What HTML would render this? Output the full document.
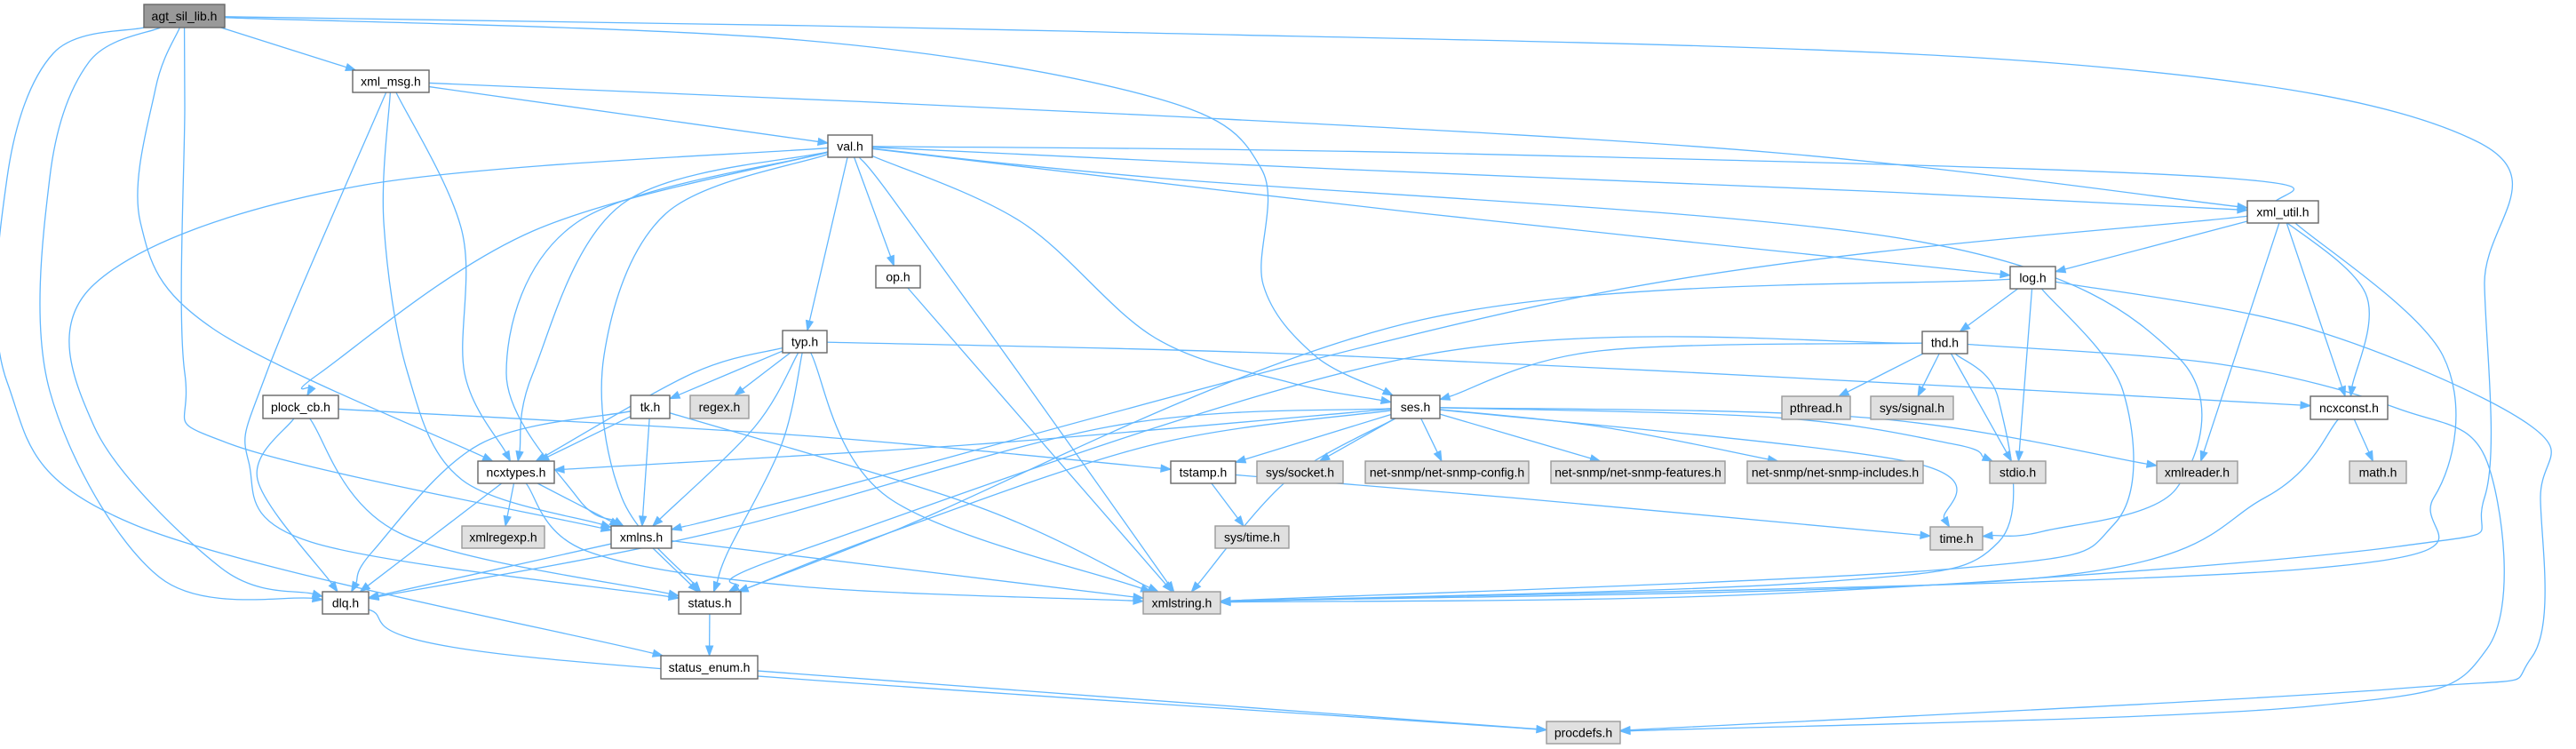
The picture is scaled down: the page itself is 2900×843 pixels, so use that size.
<!DOCTYPE html>
<html><head><meta charset="utf-8"><style>
html,body{margin:0;padding:0;background:#fff;}
svg{display:block;}
text{font-family:"Liberation Sans",sans-serif;font-size:14px;fill:#000;}
</style></head><body>
<svg id="g" width="2900" height="843" viewBox="0 0 2900 843" xmlns="http://www.w3.org/2000/svg">
<g id="edges" fill="none" stroke="#63b8ff" stroke-width="1.3"></g>
<g id="arrows" fill="#63b8ff" stroke="#63b8ff" stroke-width="1"></g>
<g id="nodes">
<rect x="162" y="5" width="91" height="26" fill="#999" stroke="#666" stroke-width="1.4"/><text x="207.5" y="23" text-anchor="middle">agt_sil_lib.h</text>
<rect x="397" y="79" width="86" height="25" fill="#fff" stroke="#666" stroke-width="1.4"/><text x="440" y="96.5" text-anchor="middle">xml_msg.h</text>
<rect x="932" y="152" width="50" height="25" fill="#fff" stroke="#666" stroke-width="1.4"/><text x="957" y="169.5" text-anchor="middle">val.h</text>
<rect x="2530" y="226" width="80" height="25" fill="#fff" stroke="#666" stroke-width="1.4"/><text x="2570" y="243.5" text-anchor="middle">xml_util.h</text>
<rect x="986" y="299" width="50" height="25" fill="#fff" stroke="#666" stroke-width="1.4"/><text x="1011" y="316.5" text-anchor="middle">op.h</text>
<rect x="2263" y="300" width="51" height="25" fill="#fff" stroke="#666" stroke-width="1.4"/><text x="2288.5" y="317.5" text-anchor="middle">log.h</text>
<rect x="881" y="372" width="50" height="25" fill="#fff" stroke="#666" stroke-width="1.4"/><text x="906" y="389.5" text-anchor="middle">typ.h</text>
<rect x="2164" y="373" width="51" height="25" fill="#fff" stroke="#666" stroke-width="1.4"/><text x="2189.5" y="390.5" text-anchor="middle">thd.h</text>
<rect x="296" y="445" width="85" height="26" fill="#fff" stroke="#666" stroke-width="1.4"/><text x="338.5" y="463" text-anchor="middle">plock_cb.h</text>
<rect x="710" y="445" width="44" height="26" fill="#fff" stroke="#666" stroke-width="1.4"/><text x="732" y="463" text-anchor="middle">tk.h</text>
<rect x="777" y="445" width="66" height="26" fill="#e0e0e0" stroke="#999" stroke-width="1.4"/><text x="810" y="463" text-anchor="middle">regex.h</text>
<rect x="1566" y="445" width="55" height="26" fill="#fff" stroke="#666" stroke-width="1.4"/><text x="1593.5" y="463" text-anchor="middle">ses.h</text>
<rect x="2006" y="446" width="77" height="26" fill="#e0e0e0" stroke="#999" stroke-width="1.4"/><text x="2044.5" y="464" text-anchor="middle">pthread.h</text>
<rect x="2106" y="446" width="93" height="26" fill="#e0e0e0" stroke="#999" stroke-width="1.4"/><text x="2152.5" y="464" text-anchor="middle">sys/signal.h</text>
<rect x="2601" y="446" width="87" height="26" fill="#fff" stroke="#666" stroke-width="1.4"/><text x="2644.5" y="464" text-anchor="middle">ncxconst.h</text>
<rect x="538" y="519" width="86" height="25" fill="#fff" stroke="#666" stroke-width="1.4"/><text x="581" y="536.5" text-anchor="middle">ncxtypes.h</text>
<rect x="1318" y="519" width="73" height="25" fill="#fff" stroke="#666" stroke-width="1.4"/><text x="1354.5" y="536.5" text-anchor="middle">tstamp.h</text>
<rect x="1415" y="519" width="97" height="25" fill="#e0e0e0" stroke="#999" stroke-width="1.4"/><text x="1463.5" y="536.5" text-anchor="middle">sys/socket.h</text>
<rect x="1537" y="519" width="184" height="25" fill="#e0e0e0" stroke="#999" stroke-width="1.4"/><text x="1629" y="536.5" text-anchor="middle">net-snmp/net-snmp-config.h</text>
<rect x="1746" y="519" width="196" height="25" fill="#e0e0e0" stroke="#999" stroke-width="1.4"/><text x="1844" y="536.5" text-anchor="middle">net-snmp/net-snmp-features.h</text>
<rect x="1967" y="519" width="198" height="25" fill="#e0e0e0" stroke="#999" stroke-width="1.4"/><text x="2066" y="536.5" text-anchor="middle">net-snmp/net-snmp-includes.h</text>
<rect x="2240" y="519" width="63" height="25" fill="#e0e0e0" stroke="#999" stroke-width="1.4"/><text x="2271.5" y="536.5" text-anchor="middle">stdio.h</text>
<rect x="2428" y="519" width="91" height="25" fill="#e0e0e0" stroke="#999" stroke-width="1.4"/><text x="2473.5" y="536.5" text-anchor="middle">xmlreader.h</text>
<rect x="2645" y="519" width="64" height="25" fill="#e0e0e0" stroke="#999" stroke-width="1.4"/><text x="2677" y="536.5" text-anchor="middle">math.h</text>
<rect x="520" y="592" width="93" height="25" fill="#e0e0e0" stroke="#999" stroke-width="1.4"/><text x="566.5" y="609.5" text-anchor="middle">xmlregexp.h</text>
<rect x="688" y="592" width="68" height="25" fill="#fff" stroke="#666" stroke-width="1.4"/><text x="722" y="609.5" text-anchor="middle">xmlns.h</text>
<rect x="1368" y="592" width="83" height="25" fill="#e0e0e0" stroke="#999" stroke-width="1.4"/><text x="1409.5" y="609.5" text-anchor="middle">sys/time.h</text>
<rect x="2173" y="593" width="59" height="26" fill="#e0e0e0" stroke="#999" stroke-width="1.4"/><text x="2202.5" y="611" text-anchor="middle">time.h</text>
<rect x="363" y="666" width="52" height="25" fill="#fff" stroke="#666" stroke-width="1.4"/><text x="389" y="683.5" text-anchor="middle">dlq.h</text>
<rect x="764" y="666" width="70" height="25" fill="#fff" stroke="#666" stroke-width="1.4"/><text x="799" y="683.5" text-anchor="middle">status.h</text>
<rect x="1287" y="666" width="87" height="25" fill="#e0e0e0" stroke="#999" stroke-width="1.4"/><text x="1330.5" y="683.5" text-anchor="middle">xmlstring.h</text>
<rect x="744" y="738" width="109" height="26" fill="#fff" stroke="#666" stroke-width="1.4"/><text x="798.5" y="756" text-anchor="middle">status_enum.h</text>
<rect x="1741" y="812" width="83" height="25" fill="#e0e0e0" stroke="#999" stroke-width="1.4"/><text x="1782.5" y="829.5" text-anchor="middle">procdefs.h</text>
</g>
</svg>
<script>
var N={agt:[162,5,253,31],xml_msg:[397,79,483,104],val:[932,152,982,177],xml_util:[2530,226,2610,251],op:[986,299,1036,324],log:[2263,300,2314,325],typ:[881,372,931,397],thd:[2164,373,2215,398],plock:[296,445,381,471],tk:[710,445,754,471],regex:[777,445,843,471],ses:[1566,445,1621,471],pthread:[2006,446,2083,472],signal:[2106,446,2199,472],ncxconst:[2601,446,2688,472],ncxtypes:[538,519,624,544],tstamp:[1318,519,1391,544],socket:[1415,519,1512,544],config:[1537,519,1721,544],features:[1746,519,1942,544],includes:[1967,519,2165,544],stdio:[2240,519,2303,544],xmlreader:[2428,519,2519,544],math:[2645,519,2709,544],xmlregexp:[520,592,613,617],xmlns:[688,592,756,617],systime:[1368,592,1451,617],time:[2173,593,2232,619],dlq:[363,666,415,691],status:[764,666,834,691],xmlstring:[1287,666,1374,691],status_enum:[744,738,853,764],procdefs:[1741,812,1824,837]};
var E=[
['agt','xml_msg',[]],
['agt','status_enum',[[60,60],[8,200],[8,430],[150,590]]],
['agt','dlq',[[100,70],[56,200],[56,440],[180,650]]],
['agt','ncxtypes',[[175,100],[158,250],[240,370]]],
['agt','xmlns',[[208,120],[208,420],[260,500]]],
['agt','ses',[[900,45],[1300,110],[1420,190],[1422,320],[1480,400]]],
['agt','xmlstring',[[1200,35],[2300,70],[2790,160],[2797,320],[2797,560],[2700,615],[2000,668]]],
['xml_msg','val',[]],
['xml_msg','xml_util',[[1300,130],[2000,172]]],
['xml_msg','status',[[300,420],[280,520],[350,610]]],
['xml_msg','xmlns',[[432,250],[459,420],[520,540]]],
['xml_msg','ncxtypes',[[520,260],[523,420]]],
['val','typ',[]],['val','op',[]],
['val','log',[[1600,240]]],
['val','xml_util',[[1500,190],[2100,215]]],
['val','ncxconst',[[1600,172],[2500,200],[2560,240],[2663,330]]],
['val','time',[[1300,200],[2150,270],[2450,400],[2450,550],[2300,598]]],
['val','ses',[[1150,250],[1300,380],[1450,430]]],
['val','xmlstring',[[1000,217],[1147,420]]],
['val','plock',[[600,260],[360,420]]],
['val','ncxtypes',[[700,230],[600,420]]],
['val','xmlns',[[650,250],[570,420],[650,560]]],
['val','dlq',[[400,210],[106,320],[106,480],[250,640]]],
['val','status',[[750,240],[680,400],[700,560]]],
['typ','tk',[]],['typ','regex',[]],
['typ','ncxtypes',[[780,420]]],['typ','xmlns',[[850,480]]],
['typ','status',[[880,500],[820,620]]],['typ','xmlstring',[[1000,560]]],
['typ','ncxconst',[[1500,400],[2300,440]]],
['tk','ncxtypes',[]],['tk','xmlns',[]],['tk','dlq',[[540,500],[420,620]]],['tk','xmlstring',[[1100,570]]],
['plock','tstamp',[[900,490]]],['plock','dlq',[[290,540]]],['plock','status',[[450,600]]],
['ncxtypes','xmlregexp',[]],['ncxtypes','xmlns',[]],['ncxtypes','dlq',[]],['ncxtypes','xmlstring',[[660,620],[900,660]]],
['xmlns','dlq',[]],['xmlns','status',[]],['xmlns','xmlstring',[]],
['dlq','procdefs',[[600,740]]],['status','status_enum',[]],['status_enum','procdefs',[]],
['op','xmlstring',[]],
['ses','ncxtypes',[[1100,500]]],['ses','tstamp',[]],['ses','socket',[]],['ses','config',[]],['ses','features',[]],
['ses','includes',[[1800,480]]],['ses','stdio',[[2000,470],[2200,500]]],['ses','xmlreader',[[2100,470]]],
['ses','time',[[2150,520]]],['ses','xmlstring',[[1450,540]]],['ses','status',[[1300,500],[1000,600]]],['ses','dlq',[[1250,480],[800,600]]],
['tstamp','systime',[]],['tstamp','time',[[1700,560]]],
['xml_util','log',[]],['xml_util','xmlns',[[1800,330],[900,560]]],['xml_util','xmlreader',[]],['xml_util','ncxconst',[]],
['xml_util','xmlstring',[[2750,400],[2740,560],[2600,640]]],
['log','thd',[]],['log','stdio',[]],['log','xmlstring',[[2390,440],[2380,590],[2200,640]]],
['log','status',[[1600,360],[1000,600]]],
['log','procdefs',[[2600,370],[2850,480],[2860,560],[2850,740],[2700,775]]],
['thd','ses',[[1800,395]]],['thd','pthread',[]],['thd','signal',[]],['thd','stdio',[]],
['thd','xmlstring',[[2250,450],[2250,610],[2050,655]]],['thd','status',[[1600,400],[900,620]]],
['thd','procdefs',[[2500,410],[2700,460],[2800,520],[2800,730],[2600,795]]],
['ncxconst','math',[]],['ncxconst','xmlstring',[[2550,560],[2300,650]]]
];
function c(r){return[(r[0]+r[2])/2,(r[1]+r[3])/2];}
function bd(r,p){var q=c(r),dx=p[0]-q[0],dy=p[1]-q[1],hw=(r[2]-r[0])/2,hh=(r[3]-r[1])/2;
var t=Math.min(dx?hw/Math.abs(dx):1e9,dy?hh/Math.abs(dy):1e9);return[q[0]+dx*t,q[1]+dy*t];}
var eg=document.getElementById('edges'),ag=document.getElementById('arrows'),ns='http://www.w3.org/2000/svg';
E.forEach(function(e){var s=N[e[0]],t=N[e[1]],w=e[2];
var first=w.length?w[0]:c(t),last=w.length?w[w.length-1]:c(s);
var p0=bd(s,first),pe=bd(t,last);
var prev=w.length?last:p0;var dx=pe[0]-prev[0],dy=pe[1]-prev[1],L=Math.hypot(dx,dy)||1;dx/=L;dy/=L;
var al=11,base=[pe[0]-dx*al,pe[1]-dy*al];
var P=[p0].concat(w).concat([base]);
var d='M'+P[0][0]+','+P[0][1];
for(var i=0;i<P.length-1;i++){var a=P[i-1]||P[i],b=P[i],cc=P[i+1],dd=P[i+2]||cc;
var c1=[b[0]+(cc[0]-a[0])/6,b[1]+(cc[1]-a[1])/6],c2=[cc[0]-(dd[0]-b[0])/6,cc[1]-(dd[1]-b[1])/6];
d+=' C'+c1[0]+','+c1[1]+' '+c2[0]+','+c2[1]+' '+cc[0]+','+cc[1];}
var p=document.createElementNS(ns,'path');p.setAttribute('d',d);eg.appendChild(p);
var px=-dy,py=dx,hw=4;
var a=document.createElementNS(ns,'polygon');
a.setAttribute('points',pe[0]+','+pe[1]+' '+(base[0]+px*hw)+','+(base[1]+py*hw)+' '+(base[0]-px*hw)+','+(base[1]-py*hw));
ag.appendChild(a);});
</script>
</body></html>
